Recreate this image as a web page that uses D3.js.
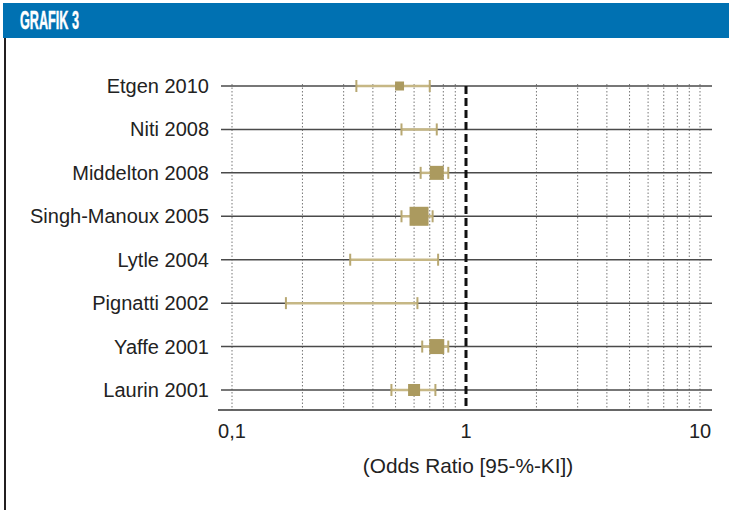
<!DOCTYPE html>
<html><head><meta charset="utf-8">
<script src="https://cdn.jsdelivr.net/npm/d3@7"></script>
<style>
html,body{margin:0;padding:0;background:#fff;}
svg{display:block;}
</style></head>
<body>
<script>
const studies = ["Etgen 2010","Niti 2008","Middelton 2008","Singh-Manoux 2005","Lytle 2004","Pignatti 2002","Yaffe 2001","Laurin 2001"];
const oddsRatio = [0.52, 0.63, 0.75, 0.63, 0.50, 0.33, 0.75, 0.60];
const ciLow =     [0.34, 0.53, 0.64, 0.53, 0.32, 0.17, 0.65, 0.48];
const ciHigh =    [0.70, 0.75, 0.84, 0.72, 0.76, 0.62, 0.84, 0.74];
const squareSize = [9, 0, 14, 19, 0, 0, 15, 12];
const tickValues = [0.1, 1, 10];
const tickLabels = ["0,1", "1", "10"];
const gridValues = [0.2,0.3,0.4,0.5,0.6,0.7,0.8,0.9,2,3,4,5,6,7,8,9];

const W = 729, H = 510;
const svg = d3.select("body").append("svg").attr("width", W).attr("height", H);
const font = "'Liberation Sans', Arial, Helvetica, sans-serif";

// header
svg.append("rect").attr("x", 3).attr("y", 3).attr("width", W - 3).attr("height", 35).attr("fill", "#0071b2");
svg.append("text").attr("x", 20).attr("y", 29).text("GRAFIK 3")
  .attr("fill", "#fff").attr("font-family", "'Liberation Sans Narrow', 'Liberation Sans', sans-serif")
  .attr("font-weight", "bold").attr("font-size", 26).attr("stroke", "#fff").attr("stroke-width", 0.5)
  .attr("textLength", 59).attr("lengthAdjust", "spacingAndGlyphs");
// left border
svg.append("line").attr("x1", 5).attr("x2", 5).attr("y1", 38).attr("y2", H)
  .attr("stroke", "#231f20").attr("stroke-width", 2);

const x = d3.scaleLog().domain([0.1, 10]).range([232, 700]);
const y = d3.scalePoint().domain(studies).range([86, 390]);
const lineX0 = 221, lineX1 = 712, axisY = 410, gridTop = 84;

// dotted gridlines
svg.append("g").selectAll("line").data(tickValues.filter(v => v !== 1).concat(gridValues)).join("line")
  .attr("x1", d => x(d)).attr("x2", d => x(d)).attr("y1", gridTop).attr("y2", axisY)
  .attr("stroke", "#777").attr("stroke-width", 1).attr("stroke-dasharray", "1.5,2");

// row lines
svg.append("g").selectAll("line").data(studies).join("line")
  .attr("x1", lineX0).attr("x2", lineX1).attr("y1", d => y(d)).attr("y2", d => y(d))
  .attr("stroke", "#4a4a4a").attr("stroke-width", 1.5);

// reference line at 1
svg.append("line").attr("x1", x(1)).attr("x2", x(1)).attr("y1", gridTop + 2).attr("y2", axisY)
  .attr("stroke", "#111").attr("stroke-width", 3).attr("stroke-dasharray", "8,4");

// axis line
svg.append("line").attr("x1", 218).attr("x2", lineX1).attr("y1", axisY).attr("y2", axisY)
  .attr("stroke", "#333").attr("stroke-width", 1.5);

// labels
svg.append("g").selectAll("text").data(studies).join("text")
  .attr("x", 209).attr("y", d => y(d) + 7).attr("text-anchor", "end")
  .attr("font-family", font).attr("font-size", 20).attr("fill", "#222").text(d => d);

// tick labels
svg.append("g").selectAll("text").data(tickValues).join("text")
  .attr("x", d => x(d)).attr("y", 438).attr("text-anchor", "middle")
  .attr("font-family", font).attr("font-size", 20).attr("fill", "#222").text((d, i) => tickLabels[i]);

svg.append("text").attr("x", 468).attr("y", 473).attr("text-anchor", "middle")
  .attr("font-family", font).attr("font-size", 20.8).attr("fill", "#222").text("(Odds Ratio [95-%-KI])");

// CI
const ciColor = "#c6b785", sqColor = "#ab9a5f";
const g = svg.append("g");
studies.forEach((s, i) => {
  const cy = y(s);
  g.append("line").attr("x1", x(ciLow[i])).attr("x2", x(ciHigh[i])).attr("y1", cy).attr("y2", cy)
    .attr("stroke", ciColor).attr("stroke-width", 2.5);
  [ciLow[i], ciHigh[i]].forEach(v => {
    g.append("line").attr("x1", x(v)).attr("x2", x(v)).attr("y1", cy - 6).attr("y2", cy + 6)
      .attr("stroke", "#b8a872").attr("stroke-width", 2);
  });
  if (squareSize[i] > 0) {
    const sz = squareSize[i];
    g.append("rect").attr("x", x(oddsRatio[i]) - sz / 2).attr("y", cy - sz / 2)
      .attr("width", sz).attr("height", sz).attr("fill", sqColor);
  }
});
</script>
</body></html>
